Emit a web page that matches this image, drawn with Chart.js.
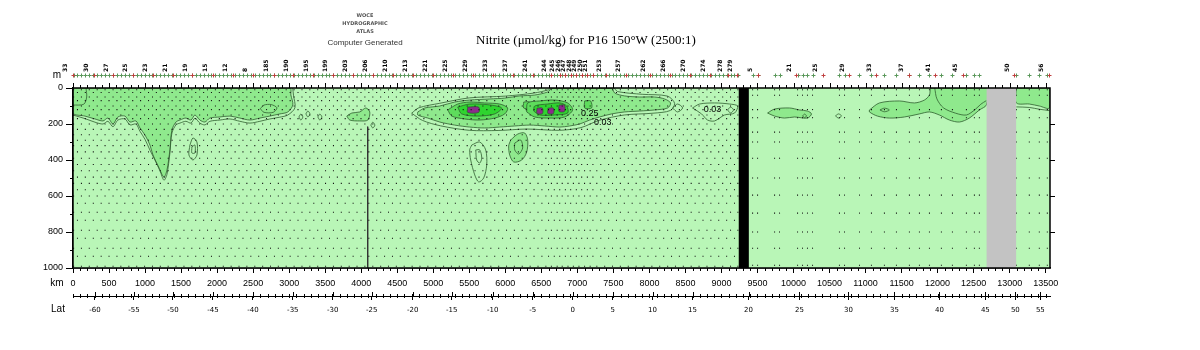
<!DOCTYPE html>
<html>
<head>
<meta charset="utf-8">
<title>Nitrite P16 150W</title>
<script src="https://cdn.jsdelivr.net/npm/chart.js@4.4.0/dist/chart.umd.min.js"></script>
<style>
  body { margin: 0; background: #fff; }
  #wrap { width: 1200px; height: 350px; }
</style>
</head>
<body>
<div id="wrap"><canvas id="section" width="1200" height="350"></canvas></div>
<script>
// Nitrite section along P16 (150W), upper 1000 m

const KM_MAX = 13560;
const DEPTH_MAX = 1000;

// cast positions (km along track)
const stationKmSouth = [
  8, 62, 117, 171, 226, 282, 336, 391, 445, 500,
  556, 610, 664, 719, 775, 829, 884, 938, 993, 1048,
  1103, 1157, 1212, 1266, 1321, 1376, 1430, 1485, 1540, 1594,
  1649, 1703, 1758, 1813, 1867, 1922, 1977, 2031, 2086, 2140,
  2195, 2250, 2304, 2359, 2413, 2468, 2523, 2577, 2632, 2686,
  2741, 2796, 2850, 2905, 2959, 3014, 3069, 3123, 3178, 3232,
  3287, 3342, 3396, 3451, 3505, 3560, 3615, 3669, 3724, 3778,
  3833, 3888, 3942, 3997, 4051, 4106, 4161, 4215, 4270, 4324,
  4379, 4434, 4488, 4543, 4597, 4652, 4707, 4761, 4816, 4870,
  4925, 4980, 5034, 5089, 5143, 5198, 5253, 5307, 5362, 5416,
  5471, 5526, 5580, 5635, 5689, 5744, 5799, 5853, 5908, 5962,
  6017, 6072, 6126, 6181, 6235, 6290, 6345, 6399, 6454, 6508,
  6563, 6600, 6640, 6680, 6720, 6755, 6790, 6834, 6870, 6907,
  6945, 6986, 7022, 7060, 7100, 7139, 7178, 7216, 7270, 7325,
  7379, 7434, 7488, 7543, 7597, 7652, 7707, 7761, 7816, 7870,
  7925, 7980, 8034, 8089, 8143, 8198, 8253, 8307, 8362, 8416,
  8471, 8526, 8580, 8635, 8689, 8744, 8799, 8853, 8908, 8962,
  9017, 9072, 9126, 9181, 9228
];
const stationKmNorth = [
  9432, 9501, 9737, 9806, 10056, 10125, 10194, 10264, 10638, 10708,
  10916, 11082, 11262, 11429, 11609, 11748, 11887, 12053, 12206, 12400,
  12511, 12580, 13093, 13273, 13412, 13523
];

// bottle depths (m)
const depthsA = [10, 50, 100, 150, 200, 260, 320, 390, 460, 530, 600, 690, 790, 890, 990];
const depthsB = [25, 70, 120, 170, 230, 290, 355, 425, 495, 565, 640, 735, 835, 935];
const depthsNorth = [10, 40, 120, 165, 245, 300, 390, 500, 595, 695, 800, 890, 985];

// station numbers on the top ruler
const stationLabels = ['33','30','27','25','23','21','19','15','12','8',
  '185','190','195','199','203','206','210','213','221','225',
  '229','233','237','241','244','245','246','247','248','249',
  '250','251','253','257','262','266','270','274','278','279',
  '5','21','25','29','33','37','41','45','50','56'];
const stationLabelKm = [0, 291, 559, 828, 1105, 1383, 1655, 1938, 2215, 2492,
  2788, 3056, 3333, 3610, 3880, 4165, 4443, 4720, 4997, 5275,
  5552, 5829, 6107, 6384, 6640, 6755, 6834, 6907, 6986, 7060,
  7139, 7216, 7402, 7670, 8013, 8290, 8567, 8845, 9089, 9219,
  9505, 10038, 10407, 10777, 11147, 11600, 11966, 12348, 13065, 13540];

// latitude ruler
const latLabels = [-60, -55, -50, -45, -40, -35, -30, -25, -20, -15, -10, -5, 0, 5, 10, 15, 20, 25, 30, 35, 40, 45, 50, 55];
const latKm = [305, 846, 1387, 1942, 2497, 3051, 3606, 4147, 4716, 5257, 5825, 6380, 6935, 7490, 8044, 8599, 9376, 10083, 10763, 11401, 12025, 12663, 13079, 13426];

// topography / data gap
const blackBarKm = [9240, 9380];
const noDataKm = [12680, 13090];

// contour outlines [km, depth]
const fill003West = [[0,0],[0,139],[166,156],[305,172],[416,183],[485,167],[555,200],[624,161],[721,156],[791,189],[874,183],[929,222],[999,261],[1068,317],[1110,372],[1190,440],[1262,495],[1304,456],[1345,344],[1373,233],[1429,189],[1484,178],[1567,167],[1637,178],[1692,150],[1761,178],[1831,189],[1900,167],[2039,161],[2178,156],[2316,167],[2455,178],[2594,167],[2732,156],[2871,144],[2982,133],[3051,94],[3024,39],[3010,0],[0,0]];
const line002West = [[0,150],[166,170],[305,190],[416,200],[485,185],[555,215],[624,178],[721,172],[791,205],[874,200],[929,240],[999,285],[1068,345],[1137,400],[1207,460],[1262,512],[1304,480],[1345,360],[1373,250],[1429,205],[1484,195],[1567,185],[1637,195],[1692,168],[1761,195],[1831,205],[1900,185],[2039,178],[2178,172],[2316,185],[2455,195],[2594,185],[2732,172],[2871,162],[2982,150],[3080,110],[3060,40],[3050,0]];
const lineCornerWest = [[0,95],[150,90],[190,50],[180,0]];
const loopWest2700 = [[2600,115],[2650,95],[2750,92],[2830,110],[2780,135],[2650,135],[2600,115]];

const fill003Equator = [[4785,133],[4882,111],[5090,100],[5298,78],[5506,67],[5784,61],[5992,56],[6200,44],[6408,39],[6588,22],[6658,0],[7476,0],[7518,28],[7656,44],[7864,50],[8072,50],[8211,61],[8294,83],[8253,111],[8072,122],[7864,128],[7656,133],[7476,144],[7309,161],[7171,178],[7032,200],[6893,211],[6755,217],[6547,211],[6339,206],[6131,211],[5922,217],[5714,222],[5506,217],[5298,206],[5090,189],[4924,167],[4785,150],[4785,133]];
const line002Equator = [[4700,140],[4800,110],[5090,85],[5500,55],[6000,45],[6400,28],[6600,10],[6640,0],[7500,0],[7560,20],[7900,35],[8250,45],[8350,85],[8290,125],[8050,140],[7650,150],[7300,180],[7050,220],[6750,235],[6300,228],[5900,236],[5500,235],[5100,210],[4850,180],[4700,140]];
const fill010West = [[5201,122],[5340,89],[5506,78],[5714,83],[5922,89],[6033,111],[5992,144],[5853,167],[5645,178],[5437,172],[5257,156],[5201,122]];
const fill010East = [[6297,133],[6311,83],[6477,72],[6685,67],[6866,83],[6935,122],[6824,161],[6616,167],[6408,161],[6297,133]];
const fill010Spot1 = [[7101,72],[7184,72],[7198,111],[7101,111],[7101,72]];
const fill010Spot2 = [[6255,78],[6339,78],[6339,111],[6255,111],[6255,78]];
const fill025West = [[5340,106],[5506,89],[5784,94],[5950,111],[5853,144],[5617,156],[5395,144],[5340,106]];
const fill025East = [[6394,128],[6408,100],[6588,89],[6755,83],[6852,100],[6866,139],[6685,150],[6477,150],[6394,128]];
const fill050a = [[5478,106],[5630,106],[5630,136],[5478,136],[5478,106]];
const fill050b = [[6440,112],[6515,112],[6515,142],[6440,142],[6440,112]];
const fill050c = [[6592,112],[6668,112],[6668,142],[6592,142],[6592,112]];
const fill050d = [[6745,95],[6821,95],[6821,130],[6745,130],[6745,95]];

const fill003Blob4000 = [[3800,156],[3870,139],[3981,133],[4064,111],[4119,133],[4092,178],[3981,183],[3842,178],[3800,156]];
const fill003Deep6200 = [[6075,289],[6172,256],[6269,250],[6311,289],[6297,356],[6228,400],[6117,411],[6061,372],[6047,322],[6075,289]];
const loopDeep6200 = [[6131,306],[6214,289],[6241,333],[6186,367],[6131,344],[6131,306]];
const loopDeep5600 = [[5534,317],[5645,300],[5728,344],[5742,428],[5700,500],[5631,522],[5576,483],[5520,400],[5506,344],[5534,317]];
const loopDeep5600In = [[5590,344],[5645,344],[5673,389],[5645,417],[5603,400],[5590,344]];
const loopDeep1650 = [[1623,317],[1664,278],[1720,300],[1720,372],[1664,400],[1609,372],[1623,317]];
const loopDeep1650In = [[1650,328],[1692,317],[1692,361],[1650,361],[1650,328]];
const loop3160 = [[3135,161],[3162,145],[3190,161],[3162,178],[3135,161]];
const loop3260 = [[3232,144],[3260,128],[3288,144],[3260,161],[3232,144]];
const loop3430 = [[3398,161],[3426,145],[3454,161],[3426,178],[3398,161]];
const loop4160 = [[4133,206],[4161,190],[4189,206],[4161,222],[4133,206]];
const stationLine4090 = [[4090,215],[4090,1000]];

const loop8390 = [[8322,111],[8391,89],[8461,111],[8391,133],[8322,111]];
const line003East = [[8599,111],[8697,89],[8905,83],[9113,89],[9224,100],[9182,139],[9043,150],[8905,183],[8807,178],[8724,144],[8599,111]];
const loop9130 = [[9085,122],[9126,106],[9168,122],[9126,139],[9085,122]];

const fill003North1 = [[9640,139],[9737,117],[9945,111],[10083,122],[10194,128],[10250,144],[10194,167],[10014,161],[9875,167],[9737,156],[9640,139]];
const loop10150 = [[10125,155],[10153,145],[10180,155],[10153,165],[10125,155]];
const loop10625 = [[10583,155],[10625,144],[10666,155],[10625,167],[10583,155]];
const fill003North2 = [[11054,122],[11193,83],[11470,72],[11679,83],[11817,67],[11887,39],[11914,0],[12677,0],[12677,94],[12580,122],[12441,167],[12303,189],[12164,178],[12025,150],[11887,133],[11748,144],[11540,161],[11332,167],[11165,156],[11054,133],[11054,122]];
const line002North2 = [[11960,0],[11990,60],[12080,110],[12250,140],[12400,150],[12520,120],[12600,90],[12677,70]];
const loop11260 = [[11200,122],[11262,112],[11330,122],[11262,132],[11200,122]];
const fill003North3 = [[13093,0],[13551,0],[13551,111],[13412,100],[13273,89],[13093,83],[13093,0]];
const line002North3 = [[13093,105],[13273,108],[13412,118],[13551,125]];

// contour value labels
const contourLabelText = ['0.25', '0.03', '0.03'];
const contourLabelKm = [7171, 7351, 8877];
const contourLabelDepth = [139, 194, 122];

const BG = '#b9f6b7';
const LEVEL1 = '#8fe98d';
const LEVEL2 = '#5edc5c';
const LEVEL3 = '#2fd42f';
const LEVEL4 = '#8b2b8b';
const LINE = '#2e5e2e';

const pts = arr => arr.map(p => ({ x: p[0], y: p[1] }));

function area(arr, color, order) {
  return { data: pts(arr), fill: 'shape', backgroundColor: color, borderColor: LINE,
           borderWidth: 0.8, pointRadius: 0, tension: 0.3, order };
}
function contour(arr, order) {
  return { data: pts(arr), fill: false, borderColor: LINE, borderWidth: 0.8,
           pointRadius: 0, tension: 0.3, order };
}
function band(k, color, order) {
  const box = [[k[0], 0], [k[1], 0], [k[1], DEPTH_MAX], [k[0], DEPTH_MAX], [k[0], 0]];
  return { data: pts(box), fill: 'shape', backgroundColor: color, borderWidth: 0,
           pointRadius: 0, tension: 0, order };
}

const bottleDots = [];
stationKmSouth.forEach((km, i) => {
  (i % 2 ? depthsB : depthsA).forEach(d => bottleDots.push({ x: km, y: d }));
});
stationKmNorth.forEach(km => depthsNorth.forEach(d => bottleDots.push({ x: km, y: d })));

const datasets = [
  band(blackBarKm, '#000000', 1),
  band(noDataKm, '#c3c3c3', 1),
  { data: bottleDots, showLine: false, pointStyle: 'rect', pointRadius: 0.75,
    pointBorderWidth: 0, pointBackgroundColor: '#111', order: 10 },
  { data: pts(stationLine4090), fill: false, borderColor: '#333', borderWidth: 1, pointRadius: 0, order: 15 },

  area(fill003West, LEVEL1, 60),
  area(fill003Equator, LEVEL1, 60),
  area(fill003Blob4000, LEVEL1, 60),
  area(fill003Deep6200, LEVEL1, 60),
  area(fill003North1, LEVEL1, 60),
  area(fill003North2, LEVEL1, 60),
  area(fill003North3, LEVEL1, 60),
  area(fill010West, LEVEL2, 50),
  area(fill010East, LEVEL2, 50),
  area(fill010Spot1, LEVEL2, 50),
  area(fill010Spot2, LEVEL2, 50),
  area(fill025West, LEVEL3, 40),
  area(fill025East, LEVEL3, 40),
  area(fill050a, LEVEL4, 30),
  area(fill050b, LEVEL4, 30),
  area(fill050c, LEVEL4, 30),
  area(fill050d, LEVEL4, 30),

  contour(line002West, 20),
  contour(lineCornerWest, 20),
  contour(loopWest2700, 20),
  contour(line002Equator, 20),
  contour(loopDeep6200, 20),
  contour(loopDeep5600, 20),
  contour(loopDeep5600In, 20),
  contour(loopDeep1650, 20),
  contour(loopDeep1650In, 20),
  contour(loop3160, 20),
  contour(loop3260, 20),
  contour(loop3430, 20),
  contour(loop4160, 20),
  contour(loop8390, 20),
  contour(line003East, 20),
  contour(loop9130, 20),
  contour(loop10150, 20),
  contour(loop10625, 20),
  contour(line002North2, 20),
  contour(loop11260, 20),
  contour(line002North3, 20)
];

// background, frame, rulers and captions
const sectionDecor = {
  id: 'sectionDecor',
  beforeDatasetsDraw(chart) {
    const { ctx, chartArea: a } = chart;
    ctx.save();
    ctx.fillStyle = BG;
    ctx.fillRect(a.left, a.top, a.right - a.left, a.bottom - a.top);
    ctx.restore();
  },
  afterDraw(chart) {
    const { ctx, chartArea: a, scales } = chart;
    const x = scales.x, y = scales.y, lat = scales.lat;
    ctx.save();

    // contour labels
    ctx.fillStyle = '#000';
    ctx.font = '9px "Liberation Sans", Arial, sans-serif';
    ctx.textAlign = 'center';
    ctx.textBaseline = 'middle';
    contourLabelText.forEach((t, i) => {
      ctx.fillText(t, x.getPixelForValue(contourLabelKm[i]), y.getPixelForValue(contourLabelDepth[i]));
    });

    // frame
    ctx.strokeStyle = '#000';
    ctx.lineWidth = 1.5;
    ctx.strokeRect(a.left, a.top, a.right - a.left, a.bottom - a.top);

    // km ticks on top and bottom edges
    ctx.lineWidth = 1;
    ctx.beginPath();
    for (let km = 0; km <= KM_MAX; km += 100) {
      const px = Math.round(x.getPixelForValue(km)) + 0.5;
      const major = km % 500 === 0;
      ctx.moveTo(px, a.top);
      ctx.lineTo(px, a.top - (major ? 5 : 3));
      if (!major) {
        ctx.moveTo(px, a.bottom);
        ctx.lineTo(px, a.bottom + 3);
      }
      // latitude ruler minor marks
      ctx.moveTo(px, lat.top - 2);
      ctx.lineTo(px, lat.top + 2);
    }
    latKm.forEach(km => {
      const px = Math.round(x.getPixelForValue(km)) + 0.5;
      ctx.moveTo(px, lat.top - 4);
      ctx.lineTo(px, lat.top);
    });
    // depth ticks: minor on the left, outward marks on the right
    for (let d = 100; d < DEPTH_MAX; d += 100) {
      const py = Math.round(y.getPixelForValue(d)) + 0.5;
      if (d % 200) {
        ctx.moveTo(a.left, py);
        ctx.lineTo(a.left - 3, py);
      } else {
        ctx.moveTo(a.right, py);
        ctx.lineTo(a.right + 5, py);
      }
    }
    ctx.stroke();

    // station crosses
    const rowY = 75.5;
    const cross = (km, color) => {
      const px = Math.round(x.getPixelForValue(km)) + 0.5;
      ctx.strokeStyle = color;
      ctx.beginPath();
      ctx.moveTo(px - 2, rowY); ctx.lineTo(px + 2, rowY);
      ctx.moveTo(px, rowY - 2); ctx.lineTo(px, rowY + 2);
      ctx.stroke();
    };
    stationKmSouth.concat(stationKmNorth).forEach(km => cross(km, '#5b985b'));
    stationLabelKm.forEach(km => cross(km, '#c04040'));

    // axis captions
    ctx.fillStyle = '#000';
    ctx.textAlign = 'center';
    ctx.font = '10px "Liberation Sans", Arial, sans-serif';
    ctx.fillText('m', 57, 75);
    ctx.fillText('km', 57, 283);
    ctx.fillText('Lat', 58, 309);

    // title block
    ctx.font = '13px "Liberation Serif", "DejaVu Serif", serif';
    ctx.fillText('Nitrite (\u03bcmol/kg) for P16 150\u00b0W (2500:1)', 586, 41);
    ctx.fillStyle = '#555';
    ctx.font = 'bold 5px "DejaVu Sans", sans-serif';
    ctx.fillText('WOCE', 365, 16);
    ctx.fillText('HYDROGRAPHIC', 365, 24);
    ctx.fillText('ATLAS', 365, 32);
    ctx.fillStyle = '#333';
    ctx.font = '8px "Liberation Sans", Arial, sans-serif';
    ctx.fillText('Computer Generated', 365, 43);
    ctx.restore();
  }
};

const axisFont = { family: '"Liberation Sans", Arial, sans-serif', size: 9 };

new Chart(document.getElementById('section'), {
  type: 'line',
  data: { datasets },
  options: {
    responsive: false,
    animation: false,
    events: [],
    layout: { padding: { left: 0, right: 150, top: 50, bottom: 30 } },
    plugins: { legend: { display: false }, tooltip: { enabled: false }, title: { display: false } },
    scales: {
      x: {
        type: 'linear', position: 'bottom', min: 0, max: KM_MAX, weight: 0,
        grid: { drawOnChartArea: false, tickLength: 5, color: '#000' },
        border: { display: true, color: '#000', width: 1.5 },
        afterBuildTicks: s => {
          const t = [];
          for (let v = 0; v <= KM_MAX; v += 500) t.push({ value: v });
          s.ticks = t;
        },
        ticks: { autoSkip: false, maxRotation: 0, padding: 5, color: '#000', font: axisFont,
                 callback: v => String(v) },
        afterFit: s => { s.height = 28; }
      },
      lat: {
        type: 'linear', position: 'bottom', min: 0, max: KM_MAX, weight: 1,
        grid: { drawOnChartArea: false, tickLength: 4, color: '#000' },
        border: { display: true, color: '#000', width: 1 },
        afterBuildTicks: s => { s.ticks = latKm.map(v => ({ value: v })); },
        ticks: { autoSkip: false, maxRotation: 0, padding: 6, color: '#000',
                 font: { family: '"DejaVu Sans", sans-serif', size: 7 },
                 callback: (v, i) => latLabels[i] },
        afterFit: s => { s.height = 24; }
      },
      stations: {
        type: 'linear', position: 'top', min: 0, max: KM_MAX,
        grid: { display: false },
        border: { display: false },
        afterBuildTicks: s => { s.ticks = stationLabelKm.map(v => ({ value: v })); },
        ticks: { autoSkip: false, minRotation: 90, maxRotation: 90, padding: 8, color: '#000',
                 font: { family: '"DejaVu Sans", sans-serif', size: 6, weight: 'bold' },
                 callback: (v, i) => stationLabels[i] },
        afterFit: s => { s.height = 38; }
      },
      y: {
        type: 'linear', position: 'left', reverse: true, min: 0, max: DEPTH_MAX,
        grid: { drawOnChartArea: false, tickLength: 7, color: '#000' },
        border: { display: true, color: '#000', width: 1.5 },
        ticks: { stepSize: 200, padding: 3, color: '#000', font: axisFont,
                 callback: v => String(v) },
        afterFit: s => { s.width = 73; }
      }
    }
  },
  plugins: [sectionDecor]
});
</script>
</body>
</html>
